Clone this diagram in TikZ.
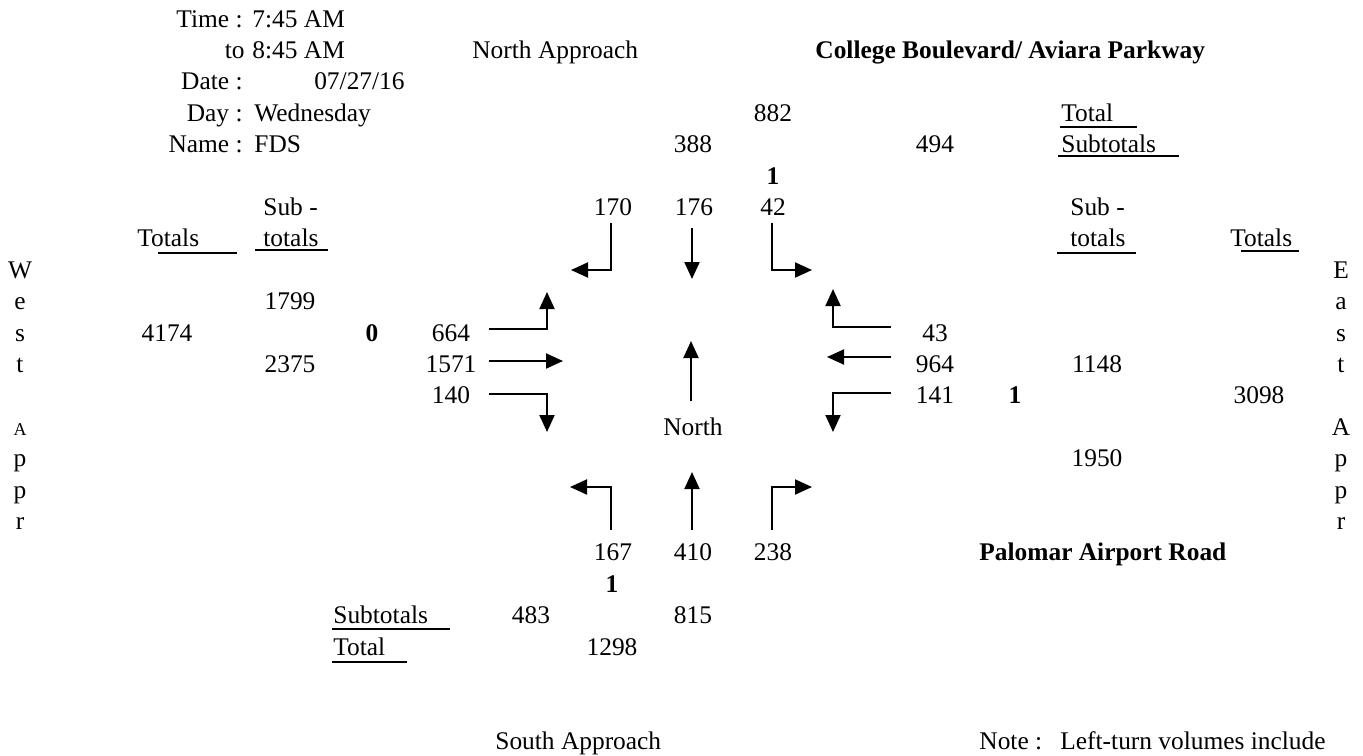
\documentclass[tikz,border=0pt]{standalone}
\usepackage{fontspec}
\setmainfont{Liberation Serif}
\usetikzlibrary{arrows.meta}
\begin{document}
\begin{tikzpicture}[x=0.5pt,y=-0.5pt,
  every node/.style={inner sep=0pt, font=\fontsize{12.7}{15}\selectfont},
  ctr/.style={anchor=base},
  lft/.style={anchor=base west},
  rgt/.style={anchor=base east},
  bld/.style={font=\fontsize{12.7}{15}\selectfont\bfseries},
  smallA/.style={anchor=base, font=\fontsize{9}{10}\selectfont},
  rule/.style={line width=1pt},
  mv/.style={line width=1pt, -{Triangle[length=8.5pt,width=7.5pt]}}]
\fill[white] (0,0) rectangle (1363,755);
\useasboundingbox (0,0) rectangle (1363,755);

% ---- header block ----
\node[rgt] (timeL) at (243,27) {Time :};
\node[lft] (timeV) at (252,27) {7:45 AM};
\node[rgt] (toL)   at (245,58.4) {to};
\node[lft] (toV)   at (252,58.4) {8:45 AM};
\node[rgt] (dateL) at (243,89.8) {Date :};
\node[rgt] (dateV) at (405,89.8) {07/27/16};
\node[rgt] (dayL)  at (243,121.2) {Day :};
\node[lft] (dayV)  at (254,121.2) {Wednesday};
\node[rgt] (nameL) at (243,152.6) {Name :};
\node[lft] (nameV) at (254,152.6) {FDS};

\node[lft] (northApp) at (472,58.4) {North Approach};
\node[lft,bld] (street1) at (815,58.4) {College Boulevard/ Aviara Parkway};

% ---- north approach totals ----
\node[ctr] (nTot) at (773,121.2) {882};
\node[ctr] (nIn)  at (693,152.6) {388};
\node[ctr] (nOut) at (935,152.6) {494};
\node[ctr,bld] (nPed) at (773,184) {1};
\node[lft] (keyTot) at (1061,121.2) {Total};
\node[lft] (keySub) at (1061,152.6) {Subtotals};
\draw[rule] (1060,127) -- (1137,127);
\draw[rule] (1058,156) -- (1179,156);

% ---- southbound movements ----
\node[ctr] (sbR) at (613,215.4) {170};
\node[ctr] (sbT) at (694,215.4) {176};
\node[ctr] (sbL) at (773,215.4) {42};

% ---- west side headings ----
\node[lft] (wSub1) at (263,215.4) {Sub -};
\node[lft] (wSub2) at (263,246.8) {totals};
\node[lft] (wTot)  at (137,246.8) {Totals};
\draw[rule] (255,250) -- (328,250);
\draw[rule] (158,253) -- (237,253);

% ---- east side headings ----
\node[lft] (eSub1) at (1070,215.4) {Sub -};
\node[lft] (eSub2) at (1070,246.8) {totals};
\node[lft] (eTot)  at (1230,246.8) {Totals};
\draw[rule] (1057,253) -- (1136,253);
\draw[rule] (1241,251) -- (1299,251);

% ---- vertical approach names ----
\foreach \ch/\n in {W/8,e/9,s/10,t/11,p/14,p/15,r/16}
  \node[ctr] (wl\n) at (20,{27+31.4*\n}) {\ch};
\node[smallA] (wl13) at (20,435.2) {A};
\foreach \ch/\n in {E/8,a/9,s/10,t/11,A/13,p/14,p/15,r/16}
  \node[ctr] (el\n) at (1341,{27+31.4*\n}) {\ch};

% ---- west approach numbers ----
\node[ctr] (wIn)   at (290,309.6) {1799};
\node[ctr] (wAll)  at (167,341) {4174};
\node[ctr] (wOut)  at (290,372.4) {2375};
\node[ctr,bld] (wPed) at (372,341) {0};
\node[ctr] (ebL) at (451,341) {664};
\node[ctr] (ebT) at (451,372.4) {1571};
\node[ctr] (ebR) at (451,403.8) {140};

% ---- east approach numbers ----
\node[ctr] (wbR) at (935,341) {43};
\node[ctr] (wbT) at (935,372.4) {964};
\node[ctr] (wbL) at (935,403.8) {141};
\node[ctr,bld] (ePed) at (1015,403.8) {1};
\node[ctr] (eIn)  at (1097,372.4) {1148};
\node[ctr] (eAll) at (1259,403.8) {3098};
\node[ctr] (eOut) at (1097,466.6) {1950};

\node[ctr] (northLbl) at (693,435.2) {North};

% ---- northbound movements ----
\node[ctr] (nbL) at (613,560.8) {167};
\node[ctr] (nbT) at (693,560.8) {410};
\node[ctr] (nbR) at (773,560.8) {238};
\node[lft,bld] (street2) at (979,560.8) {Palomar Airport Road};
\node[ctr,bld] (sPed) at (612,592.2) {1};

% ---- south approach totals ----
\node[lft] (sKeySub) at (333,623.6) {Subtotals};
\node[lft] (sKeyTot) at (333,655) {Total};
\draw[rule] (332,629) -- (450,629);
\draw[rule] (332,662) -- (407,662);
\node[ctr] (sOut) at (531,623.6) {483};
\node[ctr] (sIn)  at (693,623.6) {815};
\node[ctr] (sAll) at (612,655) {1298};

\node[lft] (southApp) at (495,749.2) {South Approach};
\node[lft] (noteL) at (979,749.2) {Note :};
\node[lft] (noteT) at (1060,749.2) {Left-turn volumes include};

% ---- movement arrows ----
% southbound
\coordinate (a1) at (611,223); \coordinate (a1c) at (611,270); \coordinate (a1e) at (571,270);
\draw[mv] (a1) -- (a1c) -- (a1e);
\coordinate (a2) at (692,228); \coordinate (a2e) at (692,279);
\draw[mv] (a2) -- (a2e);
\coordinate (a3) at (772,223); \coordinate (a3c) at (772,270); \coordinate (a3e) at (812,270);
\draw[mv] (a3) -- (a3c) -- (a3e);
% eastbound
\coordinate (b1) at (489,329); \coordinate (b1c) at (547,329); \coordinate (b1e) at (547,292);
\draw[mv] (b1) -- (b1c) -- (b1e);
\coordinate (b2) at (489,361); \coordinate (b2e) at (563,361);
\draw[mv] (b2) -- (b2e);
\coordinate (b3) at (489,394); \coordinate (b3c) at (547,394); \coordinate (b3e) at (547,432);
\draw[mv] (b3) -- (b3c) -- (b3e);
% westbound
\coordinate (c1) at (891,327); \coordinate (c1c) at (833,327); \coordinate (c1e) at (833,289);
\draw[mv] (c1) -- (c1c) -- (c1e);
\coordinate (c2) at (891,357); \coordinate (c2e) at (827,357);
\draw[mv] (c2) -- (c2e);
\coordinate (c3) at (891,393); \coordinate (c3c) at (833,393); \coordinate (c3e) at (833,432);
\draw[mv] (c3) -- (c3c) -- (c3e);
% north indicator
\coordinate (nArr) at (691,401); \coordinate (nArrE) at (691,341);
\draw[mv] (nArr) -- (nArrE);
% northbound
\coordinate (d1) at (611,530); \coordinate (d1c) at (611,487); \coordinate (d1e) at (570,487);
\draw[mv] (d1) -- (d1c) -- (d1e);
\coordinate (d2) at (692,530); \coordinate (d2e) at (692,472);
\draw[mv] (d2) -- (d2e);
\coordinate (d3) at (772,530); \coordinate (d3c) at (772,487); \coordinate (d3e) at (812,487);
\draw[mv] (d3) -- (d3c) -- (d3e);
\end{tikzpicture}
\end{document}
